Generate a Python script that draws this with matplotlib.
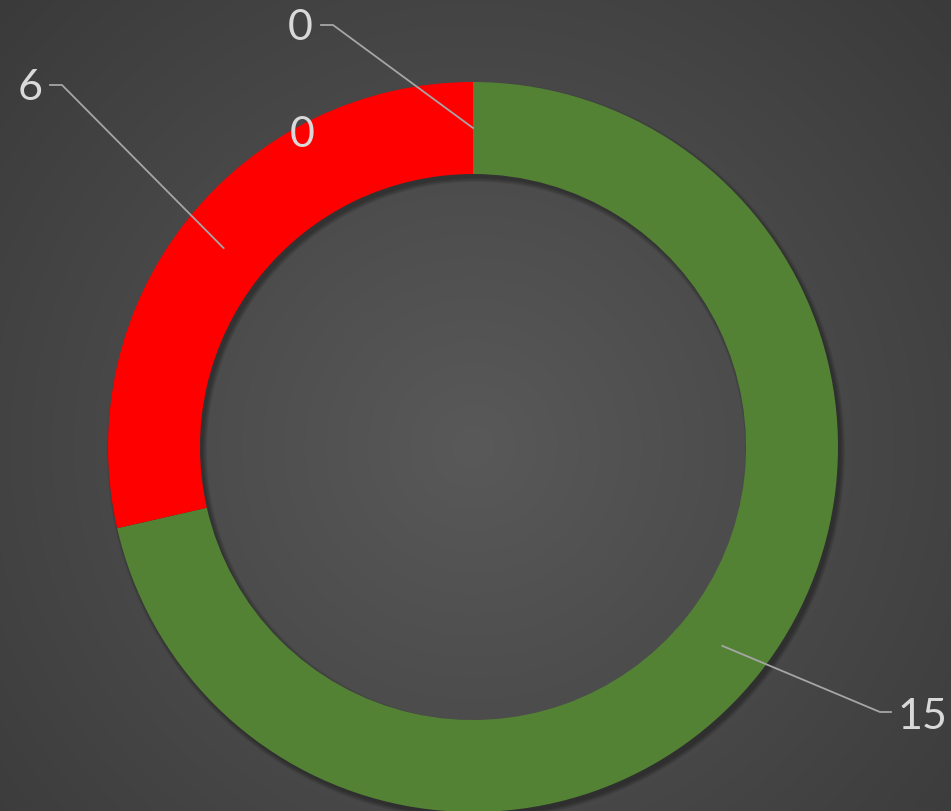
import numpy as np
import matplotlib.pyplot as plt

plt.rcParams['font.family'] = ['Lato', 'DejaVu Sans']

# chart data (clockwise from 12 o'clock)
values = [15, 6, 0, 0]
colors = ['#548235', '#FF0000', '#4472C4', '#FFC000']
labels = ['15', '6', '0', '0']

W, H = 951, 812
fig = plt.figure(figsize=(W / 100, H / 100), dpi=100)
ax = fig.add_axes([0, 0, 1, 1])
ax.set_xlim(0, W)
ax.set_ylim(0, H)
ax.set_aspect('equal')
ax.axis('off')

# radial background gradient
cx, cy = 473, H - 448
yy, xx = np.mgrid[0:H, 0:W]
d = np.hypot(xx - cx, (H - 1 - yy) - cy) / np.hypot(W, H) * 1.45
d = np.clip(d, 0, 1)
c0, c1 = 0x59 / 255, 0x30 / 255
g = c0 + (c1 - c0) * d
ax.imshow(np.dstack([g, g, g]), extent=(0, W, 0, H), origin='upper', zorder=0)

r_out, width = 365, 92

# soft shadow behind the ring, cast down-right
for k in range(6):
    ax.pie([1], radius=r_out + 0.8 * k, center=(cx + 3, cy - 4), colors=['black'],
           wedgeprops=dict(width=width + 1.6 * k, linewidth=0, alpha=0.06),
           frame=True)

wedges, _ = ax.pie(values, radius=r_out, center=(cx, cy), colors=colors,
                   startangle=90, counterclock=False, frame=True,
                   wedgeprops=dict(width=width, linewidth=0))
ax.set_xlim(0, W)
ax.set_ylim(0, H)
ax.axis('off')

text_kw = dict(color='#D9D9D9', fontsize=31, ha='center', va='center', zorder=5)
line_kw = dict(color='#A6A6A6', lw=1.3, zorder=4)
r_mid = r_out - width / 2

# label placement: (wedge index, text position, elbow, line end)
placements = [
    (0, (922, 717), (880, 713), (891, 713)),
    (1, (30, 88), (62, 86), (50, 86)),
    (2, (300, 28), (333, 26), (321, 26)),
]
for i, tpos, elbow, end in placements:
    w = wedges[i]
    ang = np.deg2rad((w.theta1 + w.theta2) / 2)
    ax_pt = (cx + r_mid * np.cos(ang), cy + r_mid * np.sin(ang))
    ax.plot([ax_pt[0], elbow[0], end[0]],
            [ax_pt[1], H - elbow[1], H - end[1]], **line_kw)
    ax.text(tpos[0], H - tpos[1], labels[i], **text_kw)

# last zero label sits inside the ring, no leader
ax.text(302, H - 135, labels[3], **text_kw)

fig.savefig('out.png', dpi=100)
